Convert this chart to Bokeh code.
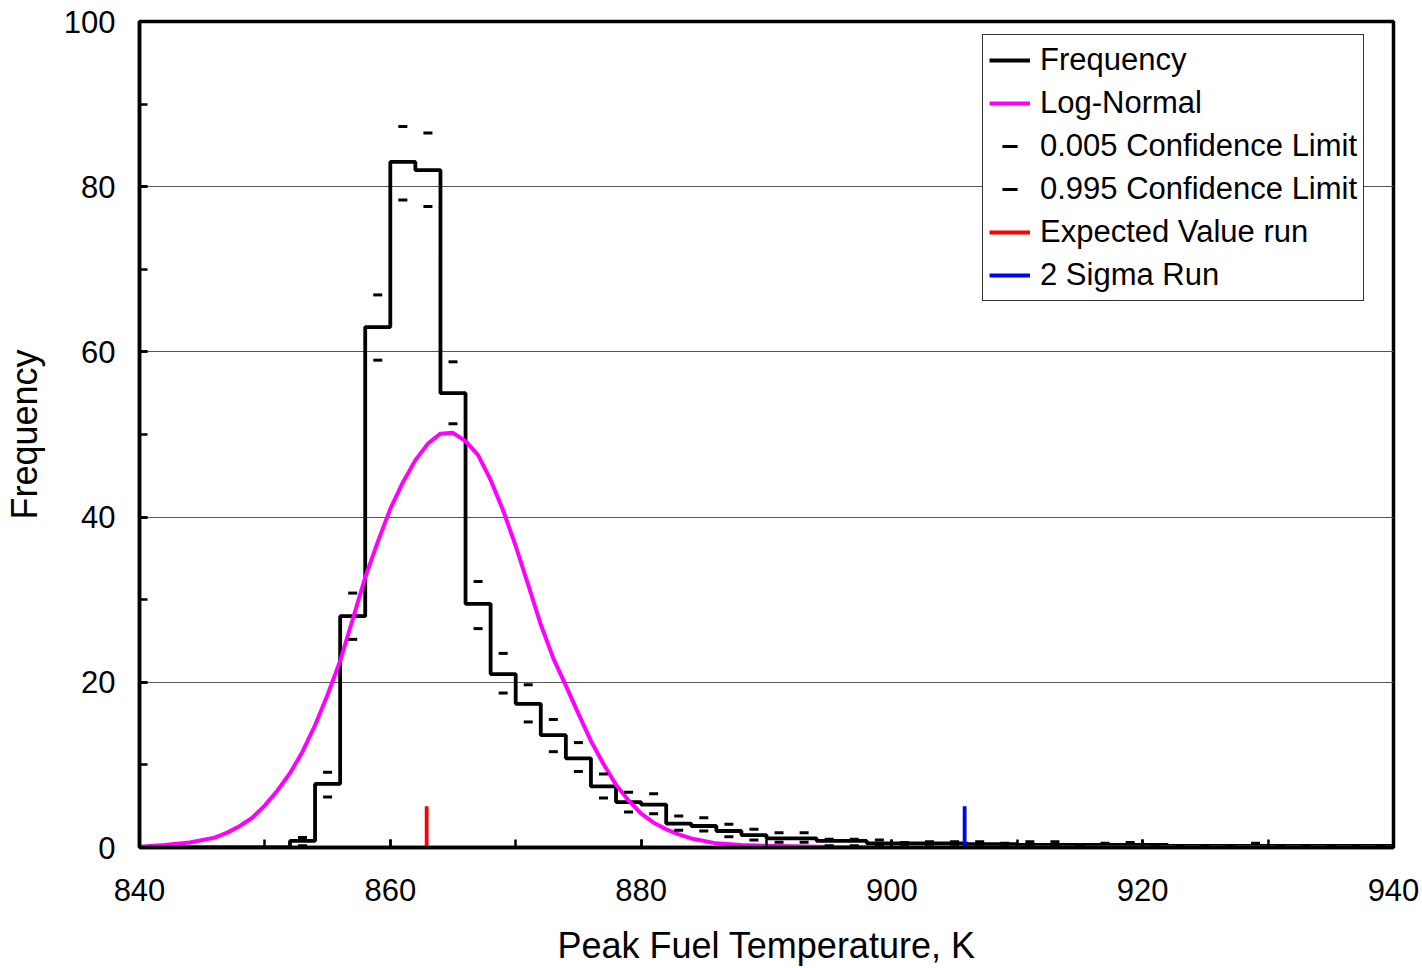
from bokeh.plotting import figure
from bokeh.models import Legend, LegendItem, SingleIntervalTicker
from bokeh.embed import file_html
from bokeh.resources import INLINE

# ---- data ----
bin_left = list(range(840, 940, 2))
frequency = [0, 0, 0, 0, 0, 0, 0.8, 7.7, 28.0, 63.0,
             83.0, 82.0, 55.0, 29.5, 21.0, 17.4, 13.6, 10.8, 7.4, 5.5,
             5.2, 2.9, 2.6, 2.0, 1.5, 1.1, 1.1, 0.8, 0.8, 0.5,
             0.5, 0.5, 0.5, 0.4, 0.4, 0.3, 0.3, 0.3, 0.3, 0.3,
             0.3, 0.2, 0.2, 0.2, 0.2, 0.2, 0.2, 0.2, 0.2, 0.2]

bin_center = list(range(841, 941, 2))
cl_low = [0, 0, 0, 0, 0, 0, 0.2, 6.1, 25.2, 59.0,
          78.4, 77.6, 51.3, 26.5, 18.7, 15.2, 11.6, 9.2, 6.0, 4.3,
          4.1, 2.1, 2.0, 1.3, 0.9, 0.65, 0.65, 0.2, 0.2, 0.2,
          0.1, 0.1, 0.1, 0.1, 0.1, 0.1, 0.1, 0.0, 0.0, 0.0,
          0, 0, 0, 0, 0, 0, 0, 0, 0, 0]
cl_high = [0, 0, 0, 0, 0, 0, 1.2, 9.1, 30.8, 66.9,
           87.3, 86.5, 58.8, 32.2, 23.5, 19.7, 15.5, 12.7, 8.9, 6.7,
           6.5, 3.8, 3.6, 2.8, 2.2, 1.8, 1.8, 1.0, 1.0, 0.9,
           0.6, 0.7, 0.7, 0.7, 0.5, 0.7, 0.7, 0.2, 0.5, 0.6,
           0.2, 0.2, 0.2, 0.2, 0.5, 0.2, 0.2, 0.2, 0.2, 0.2]

lognormal_x = [840, 842, 844, 846, 847, 848, 849, 850, 851, 852, 853, 854, 855,
               856, 857, 858, 859, 860, 861, 862, 863, 864, 865, 866, 867, 868,
               869, 870, 871, 872, 873, 874, 875, 876, 877, 878, 879, 880, 881,
               882, 883, 884, 886, 888, 890, 895, 900, 940]
lognormal_y = [0.1, 0.3, 0.6, 1.2, 1.8, 2.6, 3.6, 5.1, 6.9, 9.0, 11.6, 14.8, 18.5,
               22.6, 27.6, 32.7, 37.0, 41.0, 44.2, 46.9, 48.9, 50.1, 50.2, 49.2, 47.5, 44.5,
               40.8, 36.5, 31.8, 27.0, 22.9, 19.6, 16.2, 12.9, 10.1, 7.6, 5.7, 4.1, 3.0,
               2.2, 1.6, 1.1, 0.5, 0.3, 0.2, 0.05, 0.0, 0.0]

expected_value_run = 862.9
two_sigma_run = 905.8
run_marker_height = 5

x_ticks_interval = 20
y_ticks_interval = 20

FONT = "Liberation Sans"

p = figure(width=1422, height=968, x_range=(840, 940), y_range=(0, 100),
           output_backend="svg", toolbar_location=None,
           min_border_left=138, min_border_right=29,
           min_border_top=21, min_border_bottom=120)
p.background_fill_color = "white"
p.border_fill_color = "white"
p.outline_line_color = "black"
p.outline_line_width = 3.5
p.outline_line_alpha = 1

# step histogram
step_x = bin_left + [940]
step_y = frequency + [frequency[-1]]
r_freq = p.step(step_x, step_y, mode="after", line_color="black", line_width=3.8)

r_ln = p.line(lognormal_x, lognormal_y, line_color="#FF00FF", line_width=4)

r_low = p.scatter(bin_center, cl_low, marker="dash", size=9, line_color="black", line_width=3)
r_high = p.scatter(bin_center, cl_high, marker="dash", size=9, line_color="black", line_width=3)

r_ev = p.line([expected_value_run, expected_value_run], [0, run_marker_height],
              line_color="#FF0000", line_width=3.8)
r_2s = p.line([two_sigma_run, two_sigma_run], [0, run_marker_height],
              line_color="#0000FF", line_width=3.8)

# axes
for ax in (p.xaxis[0], p.yaxis[0]):
    ax.axis_line_color = "black"
    ax.axis_line_width = 3.5
    ax.major_tick_in = 8
    ax.major_tick_out = 0
    ax.minor_tick_in = 8
    ax.minor_tick_out = 0
    ax.major_tick_line_width = 2.5
    ax.minor_tick_line_width = 2.5
    ax.major_tick_line_color = "black"
    ax.minor_tick_line_color = "black"
    ax.major_label_text_font = FONT
    ax.major_label_text_font_size = "31px"
    ax.major_label_text_color = "black"
    ax.axis_label_text_font = FONT
    ax.axis_label_text_font_size = "36px"
    ax.axis_label_text_font_style = "normal"
    ax.axis_label_text_color = "black"

p.xaxis.ticker = SingleIntervalTicker(interval=x_ticks_interval, num_minor_ticks=2)
p.yaxis.ticker = SingleIntervalTicker(interval=y_ticks_interval, num_minor_ticks=2)
p.xaxis.axis_label = "Peak Fuel Temperature, K"
p.yaxis.axis_label = "Frequency"
p.xaxis.major_label_standoff = 31
p.yaxis.major_label_standoff = 24
p.xaxis.axis_label_standoff = 21
p.yaxis.axis_label_standoff = 16

p.xgrid.grid_line_color = None
p.ygrid.grid_line_color = "#555555"
p.ygrid.grid_line_width = 1

legend = Legend(items=[
    LegendItem(label="Frequency", renderers=[r_freq]),
    LegendItem(label="Log-Normal", renderers=[r_ln]),
    LegendItem(label="0.005 Confidence Limit", renderers=[r_low]),
    LegendItem(label="0.995 Confidence Limit", renderers=[r_high]),
    LegendItem(label="Expected Value run", renderers=[r_ev]),
    LegendItem(label="2 Sigma Run", renderers=[r_2s]),
], location=(843, 546))
legend.label_text_font = FONT
legend.label_text_font_size = "31px"
legend.label_text_color = "black"
legend.glyph_width = 41
legend.glyph_height = 38
legend.label_height = 38
legend.spacing = 5
legend.padding = 6
legend.margin = 0
legend.label_standoff = 10
legend.border_line_color = "#333333"
legend.border_line_width = 1
legend.border_line_alpha = 1
legend.background_fill_color = "white"
legend.background_fill_alpha = 1
p.add_layout(legend)

open("out.html", "w").write(file_html(p, INLINE))
